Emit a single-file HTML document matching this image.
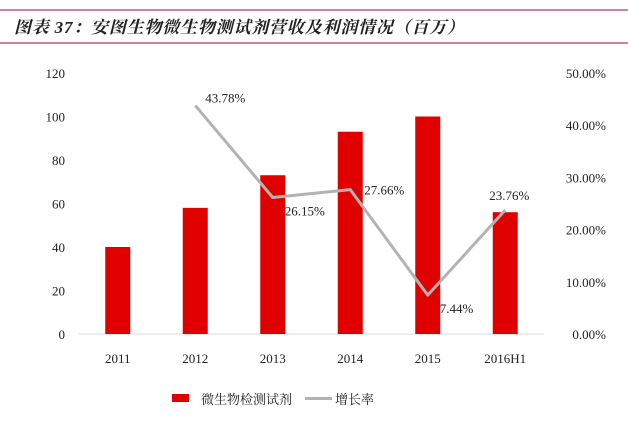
<!DOCTYPE html>
<html><head><meta charset="utf-8"><style>
body{margin:0;background:#fff;}
svg text{font-family:"Liberation Serif","Noto Serif CJK SC",serif;}
</style></head><body>
<svg width="628" height="427" viewBox="0 0 628 427">
<line x1="0" y1="10" x2="628" y2="10" stroke="#c8557a" stroke-width="1.5"/>
<line x1="0" y1="43" x2="628" y2="43" stroke="#c8557a" stroke-width="1.5"/>
<text x="14" y="33" font-size="17" letter-spacing="0.8" font-style="italic" font-weight="bold" fill="#222" style='font-family:"Liberation Serif","Noto Serif CJK SC",serif'>图表 37：安图生物微生物测试剂营收及利润情况（百万）</text>
<g id="plot"></g>
<rect x="172" y="394" width="17" height="8" fill="#e00000"/>
<text x="201" y="404" font-size="13" fill="#222">微生物检测试剂</text>
<line x1="305" y1="398.5" x2="332" y2="398.5" stroke="#b3b3b3" stroke-width="3"/>
<text x="335" y="404" font-size="13" fill="#222">增长率</text>
</svg>
<script>
const categories=["2011","2012","2013","2014","2015","2016H1"];
const revenue=[40,58,73,93,100,56];
const growth=[null,43.78,26.15,27.66,7.44,23.76];
const leftTicks=[0,20,40,60,80,100,120];
const rightTicks=[0,10,20,30,40,50];
const g=document.getElementById('plot');
const NS='http://www.w3.org/2000/svg';
const y0=334,yTop=73,xL=79,xR=544;
const yL=v=>y0-(v/120)*(y0-yTop);
const yR=v=>y0-(v/50)*(y0-yTop);
const step=(xR-xL)/categories.length;
const xC=i=>xL+step*(i+0.5);
function mk(t,a){const e=document.createElementNS(NS,t);for(const k in a)e.setAttribute(k,a[k]);g.appendChild(e);return e;}
leftTicks.forEach(v=>{const t=mk('text',{x:65,y:yL(v)+5,'font-size':13,'text-anchor':'end',fill:'#222'});t.textContent=v;

});
rightTicks.forEach(v=>{const t=mk('text',{x:606,y:yR(v)+5,'font-size':13,'text-anchor':'end',fill:'#222'});t.textContent=v.toFixed(2)+'%';

});
const ax=mk('line',{x1:xL,y1:y0,x2:xR,y2:y0,stroke:'#d9d9d9','stroke-width':1});


revenue.forEach((v,i)=>{const r=mk('rect',{x:xC(i)-12.5,y:yL(v),width:25,height:y0-yL(v),fill:'#e00000'});

});
categories.forEach((c,i)=>{const t=mk('text',{x:xC(i),y:363,'font-size':13,'text-anchor':'middle',fill:'#222'});t.textContent=c;

});
let pts=[];growth.forEach((v,i)=>{if(v!==null)pts.push(xC(i)+','+yR(v));});
const pl=mk('polyline',{points:pts.join(' '),fill:'none',stroke:'#b3b3b3','stroke-width':3,'stroke-linejoin':'round'});


const off=[[0,0],[10,-3],[12,18],[14,5],[12,18],[-16,-10]];
growth.forEach((v,i)=>{if(v===null)return;const t=mk('text',{x:xC(i)+off[i][0],y:yR(v)+off[i][1],'font-size':13,fill:'#222'});t.textContent=v.toFixed(2)+'%';

});
</script>
</body></html>
